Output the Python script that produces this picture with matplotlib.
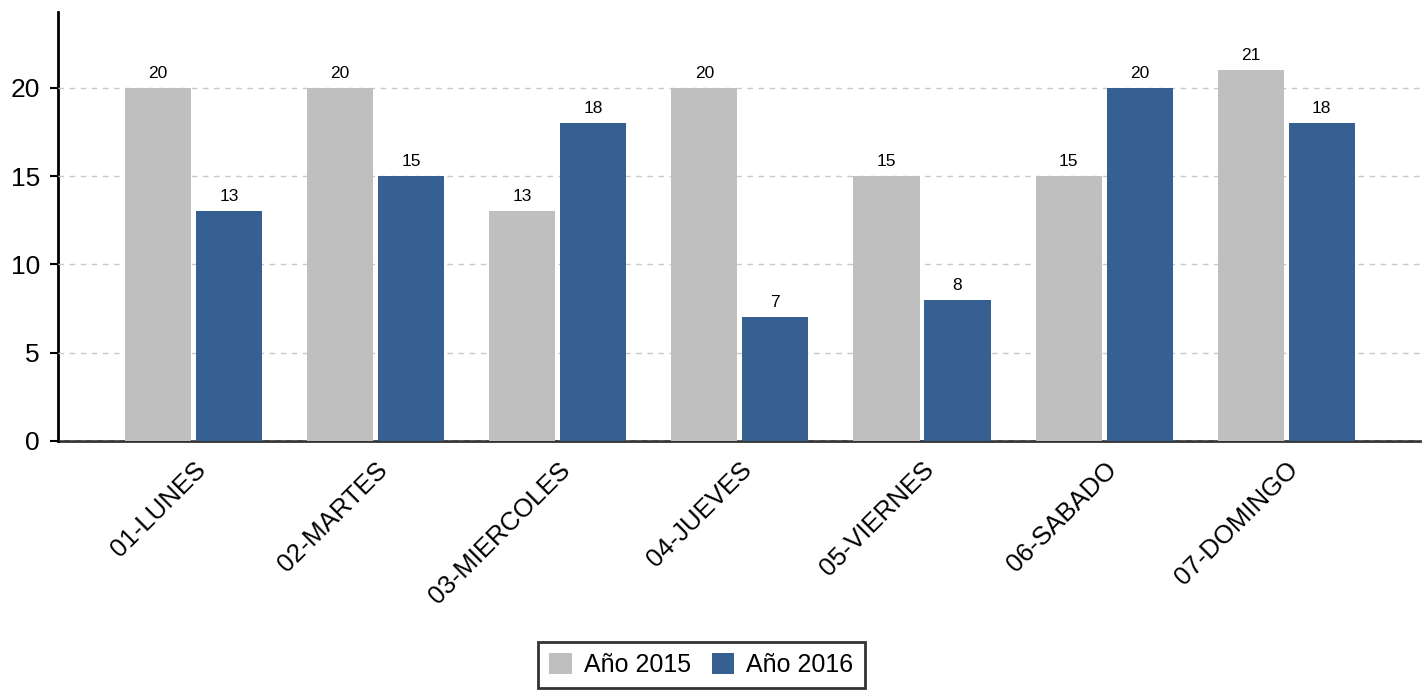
import matplotlib
matplotlib.use("Agg")
import matplotlib.pyplot as plt
import matplotlib.transforms as mtransforms
import numpy as np

categories = ["01-LUNES", "02-MARTES", "03-MIERCOLES", "04-JUEVES", "05-VIERNES", "06-SABADO", "07-DOMINGO"]
series_names = ["Año 2015", "Año 2016"]
values_2015 = [20, 20, 13, 20, 15, 15, 21]
values_2016 = [13, 15, 18, 7, 8, 20, 18]
colors = ["#bfbfbf", "#376092"]

plt.rcParams['font.family'] = ['Liberation Sans', 'DejaVu Sans']

fig = plt.figure(figsize=(14.28, 6.91), dpi=100)
ax = fig.add_axes([58/1428, 1 - 441/691, (1420-58)/1428, (441-12)/691])

x = np.arange(len(categories))
w = 0.363
off = 0.195
b1 = ax.bar(x - off, values_2015, w, color=colors[0], label=series_names[0], zorder=3)
b2 = ax.bar(x + off, values_2016, w, color=colors[1], label=series_names[1], zorder=3)
for bars in (b1, b2):
    for r in bars:
        ax.text(r.get_x() + r.get_width()/2, r.get_height() + 0.4, f"{int(r.get_height())}",
                ha='center', va='bottom', fontsize=12.5, color='black', zorder=4)

ax.set_xlim(-0.745, 6.735)
ax.set_ylim(0, 24.3)
ax.set_yticks([0, 5, 10, 15, 20])
ax.yaxis.grid(True, linestyle=(0, (4, 4)), color='#c8c8c8', linewidth=1, zorder=5)
ax.set_axisbelow(False)
ax.set_xticks(x)
ax.set_xticklabels(categories, rotation=45, ha='right', rotation_mode='anchor', fontsize=18.5)
shift = mtransforms.ScaledTranslation(10/100, 0, fig.dpi_scale_trans)
for lab in ax.get_xticklabels():
    lab.set_transform(lab.get_transform() + shift)
ax.tick_params(axis='y', labelsize=19, length=6, width=1.5, direction='out', colors='black', pad=7)
ax.tick_params(axis='x', length=0, pad=12)
for s in ['top', 'right']:
    ax.spines[s].set_visible(False)
ax.spines['left'].set_linewidth(2)
ax.spines['left'].set_color('black')
ax.spines['bottom'].set_linewidth(2)
ax.spines['bottom'].set_color('#333333')
ax.spines['bottom'].set_zorder(2)

leg = fig.legend(handles=[b1, b2], labels=series_names, loc='center', bbox_to_anchor=(701.5/1428, 1 - 665/691),
                 ncol=2, frameon=True, fancybox=False, edgecolor='black', fontsize=18,
                 handlelength=0.9, handleheight=0.9, handletextpad=0.5, columnspacing=0.8,
                 borderpad=0.45, borderaxespad=0)
leg.get_frame().set_linewidth(2)

fig.savefig("out.png", dpi=100)
